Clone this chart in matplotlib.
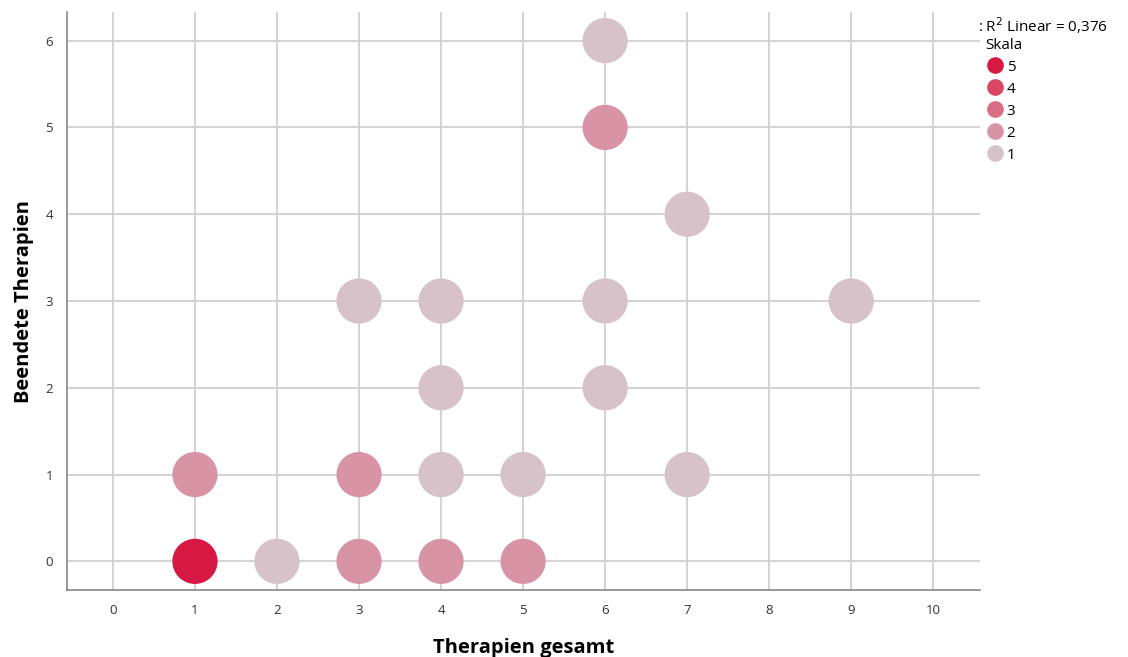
import numpy as np
import matplotlib.pyplot as plt
from matplotlib.lines import Line2D

plt.rcParams['font.family'] = ['Open Sans', 'DejaVu Sans']

# ---- DATA ----
therapien_gesamt = [1, 2, 3, 4, 5, 1, 3, 4, 5, 7, 4, 6, 3, 4, 6, 9, 7, 6, 6]
beendete = [0, 0, 0, 0, 0, 1, 1, 1, 1, 1, 2, 2, 3, 3, 3, 3, 4, 5, 6]
skala = [5, 1, 2, 2, 2, 2, 2, 1, 1, 1, 1, 1, 1, 1, 1, 1, 1, 2, 1]

skala_levels = [5, 4, 3, 2, 1]
skala_colors = {5: '#D71842', 4: '#DA4566', 3: '#D86D83', 2: '#D894A5', 1: '#D6C2C8'}
r2_text = ': R$^2$ Linear = 0,376'

fig = plt.figure(figsize=(11.28, 6.57), dpi=100)
ax = fig.add_axes([0.0594, 0.102, 0.8094, 0.8797])

cols = [skala_colors[s] for s in skala]
ax.scatter(therapien_gesamt, beendete, s=1060, c=cols, edgecolors='none', zorder=3)

ax.set_xlim(-0.56, 10.57)
ax.set_ylim(-0.33, 6.33)
ax.set_xticks(range(0, 11))
ax.set_yticks(range(0, 7))
ax.grid(True, color='#D0D0D0', linewidth=1.3, zorder=0)
ax.set_axisbelow(True)
ax.tick_params(length=0, labelsize=9.5, colors='#333333', pad=10)
for sp in ['top', 'right']:
    ax.spines[sp].set_visible(False)
for sp in ['left', 'bottom']:
    ax.spines[sp].set_color('#888888')
    ax.spines[sp].set_linewidth(1.2)

ax.set_xlabel('Therapien gesamt', fontsize=14.5, fontweight='bold', labelpad=15)
ax.set_ylabel('Beendete Therapien', fontsize=14.5, fontweight='bold', labelpad=8)

# legend
handles = [Line2D([], [], marker='o', linestyle='none', markersize=12,
                  markerfacecolor=skala_colors[s], markeredgecolor='none',
                  label=str(s)) for s in skala_levels]
leg = fig.legend(handles=handles, title='Skala', loc='upper left',
                 bbox_to_anchor=(0.868, 0.952), frameon=False, fontsize=11,
                 title_fontsize=11, handletextpad=0.1, labelspacing=0.46,
                 handlelength=1.3, borderaxespad=0)
leg._legend_box.align = 'left'
fig.text(0.867, 0.961, r2_text, fontsize=11, ha='left', va='center')

plt.savefig('out.png', dpi=100)
